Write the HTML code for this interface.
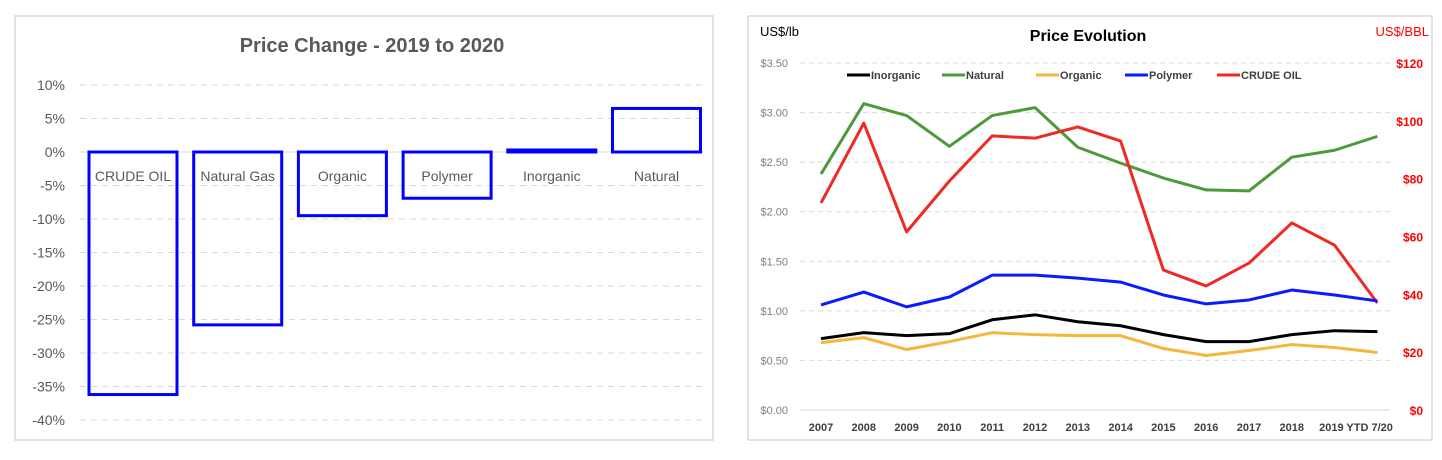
<!DOCTYPE html>
<html><head><meta charset="utf-8"><style>
body{margin:0;background:#fff;font-family:"Liberation Sans",sans-serif}
svg{display:block}
</style></head><body>
<svg width="1442" height="460" xmlns="http://www.w3.org/2000/svg">
<g id="left">
<rect x="15" y="16" width="698" height="424" fill="#fff" stroke="#d9d9d9" stroke-width="1.5"/>
<text x="372" y="52" text-anchor="middle" font-size="20" font-weight="bold" fill="#595959">Price Change - 2019 to 2020</text>
<g id="lgrid"></g><g id="lbars"></g><g id="lticks"></g>
</g>
<g id="right">
<rect x="748" y="16" width="684" height="424" fill="#fff" stroke="#d9d9d9" stroke-width="1.5"/>
<text x="1088" y="41" text-anchor="middle" font-size="16" font-weight="bold" fill="#000">Price Evolution</text>
<text x="760" y="36" font-size="13" fill="#000">US$/lb</text>
<text x="1429" y="36" text-anchor="end" font-size="13" fill="#ff0000">US$/BBL</text>
<g id="rgrid"></g><g id="rlines"></g><g id="rlegend"></g>
</g>
</svg>
<script>
const barCats=["CRUDE OIL","Natural Gas","Organic","Polymer","Inorganic","Natural"];
const barVals=[-36.2,-25.8,-9.5,-6.9,0.3,6.5];
const barTicks=[10,5,0,-5,-10,-15,-20,-25,-30,-35,-40];

const years=["2007","2008","2009","2010","2011","2012","2013","2014","2015","2016","2017","2018","2019","YTD 7/20"];
const xLabels=["2007","2008","2009","2010","2011","2012","2013","2014","2015","2016","2017","2018","2019 YTD 7/20"];
const inorganic=[0.72,0.78,0.75,0.77,0.91,0.96,0.89,0.85,0.76,0.69,0.69,0.76,0.80,0.79];
const natural=[2.38,3.09,2.97,2.66,2.97,3.05,2.65,2.49,2.34,2.22,2.21,2.55,2.62,2.76];
const organic=[0.68,0.73,0.61,0.69,0.78,0.76,0.75,0.75,0.62,0.55,0.60,0.66,0.63,0.58];
const polymer=[1.06,1.19,1.04,1.14,1.36,1.36,1.33,1.29,1.16,1.07,1.11,1.21,1.16,1.10];
const crude=[71.6,99.2,61.6,79.2,94.8,94.0,97.9,93.0,48.4,42.9,50.8,64.7,57.0,37.0];
const leftTicks=[0,0.5,1,1.5,2,2.5,3,3.5];
const rightTicks=[0,20,40,60,80,100,120];

const NS="http://www.w3.org/2000/svg";
function mk(tag,attrs,parent,txt){const e=document.createElementNS(NS,tag);for(const k in attrs)e.setAttribute(k,attrs[k]);if(txt!=null)e.textContent=txt;parent.appendChild(e);return e;}

// left chart
const ly=v=>152-v*6.7;
const lx=i=>85+i*104.7;
const lg=document.getElementById('lgrid'),lb=document.getElementById('lbars'),lt=document.getElementById('lticks');
barTicks.forEach(t=>{
  const l=mk('line',{x1:80,x2:703,y1:ly(t),y2:ly(t),stroke:t===0?'#d9d9d9':'#d9d9d9','stroke-width':1,'stroke-dasharray':t===0?'':'6,5'},lg);
  
  
  const tx=mk('text',{x:65,y:ly(t)+5,'text-anchor':'end','font-size':14,fill:'#595959'},lt,t+'%');
  
  
});
barCats.forEach((c,i)=>{
  const v=barVals[i];const y0=ly(0),y1=ly(v);
  const r=mk('rect',{x:lx(i)+4,y:Math.min(y0,y1),width:88,height:Math.max(Math.abs(y1-y0),1),fill:'none',stroke:'#0000ff','stroke-width':3},lb);
  
  
  const t=mk('text',{x:lx(i)+48,y:181,'text-anchor':'middle','font-size':14,fill:'#595959'},lt,c);
  
  
});

// right chart
const ryL=v=>410-v*99.14;
const ryR=v=>410-v*2.8917;
const rx=i=>821+i*42.8;
const rg=document.getElementById('rgrid'),rl=document.getElementById('rlines'),rle=document.getElementById('rlegend');
leftTicks.forEach(t=>{
  const l=mk('line',{x1:800,x2:1390,y1:ryL(t),y2:ryL(t),stroke:'#d9d9d9','stroke-width':1,'stroke-dasharray':t===0?'':'5,4'},rg);
  
  
  const tx=mk('text',{x:788,y:ryL(t)+4,'text-anchor':'end','font-size':11,fill:'#7f7f7f'},rg,'$'+t.toFixed(2));
  
  
});
rightTicks.forEach(t=>{
  const tx=mk('text',{x:1423,y:ryR(t)+5,'text-anchor':'end','font-size':12,'font-weight':'bold',fill:'#ff0000'},rg,'$'+t);
  
  
});
xLabels.forEach((lab,i)=>{
  const x=i<12?rx(i):(rx(12)+rx(13))/2;
  const tx=mk('text',{x:x,y:431,'text-anchor':'middle','font-size':11,'font-weight':'bold',fill:'#404040'},rg,lab);
  
  
});
const series=[
  ['natural',natural,'#4e9a3a',ryL],
  ['crude-oil',crude,'#ee2a24',ryR],
  ['polymer',polymer,'#0a1bff',ryL],
  ['organic',organic,'#f4b73b',ryL],
  ['inorganic',inorganic,'#000',ryL]];
series.forEach(([n,d,c,yf])=>{
  const p=mk('polyline',{points:d.map((v,i)=>rx(i)+','+yf(v)).join(' '),fill:'none',stroke:c,'stroke-width':3,'stroke-linejoin':'round'},rl);
  
  
});
const leg=[['Inorganic','#000',847],['Natural','#4e9a3a',942],['Organic','#f4b73b',1036],['Polymer','#0a1bff',1125],['CRUDE OIL','#ee2a24',1217]];
leg.forEach(([n,c,x])=>{
  const g=mk('g',{},rle);
  
  
  mk('line',{x1:x,x2:x+23,y1:75,y2:75,stroke:c,'stroke-width':3},g);
  mk('text',{x:x+24,y:79,'font-size':11,'font-weight':'bold',fill:'#404040'},g,n);
});
</script>
</body></html>
